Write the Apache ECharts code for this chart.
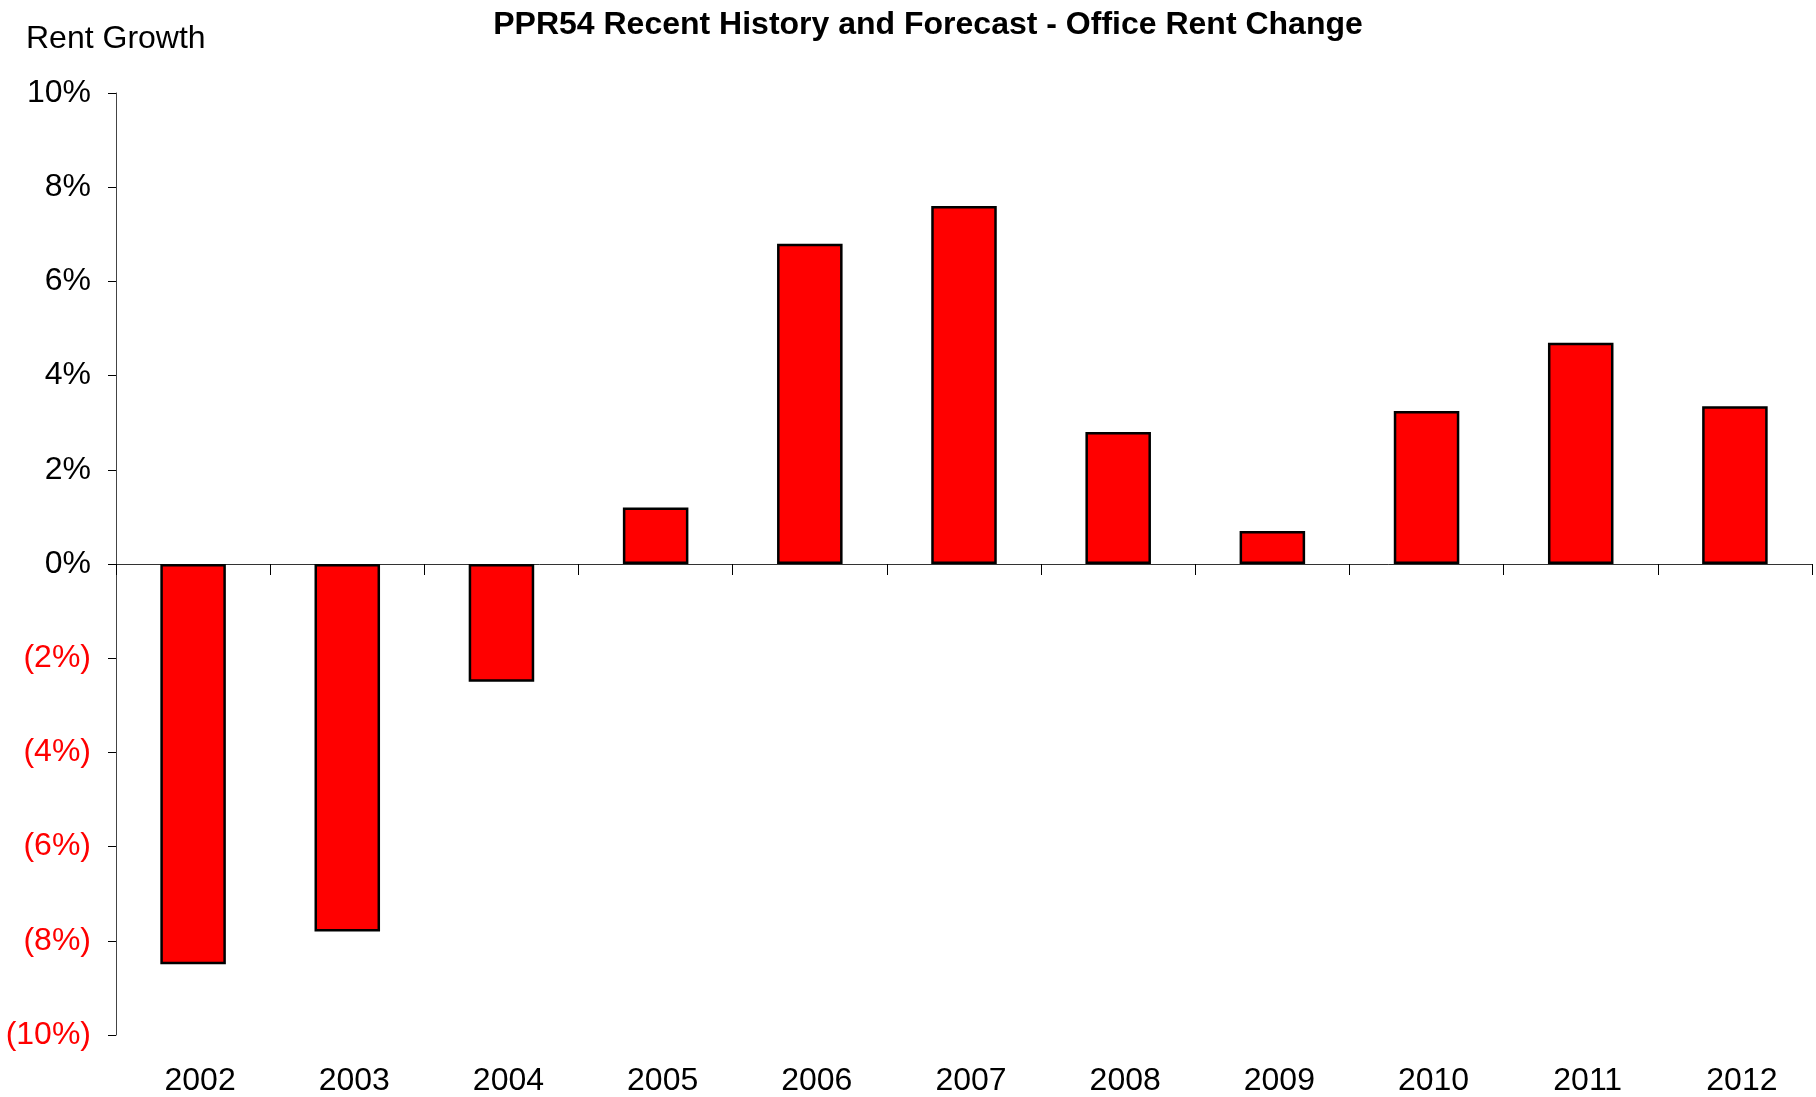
<!DOCTYPE html>
<html>
<head>
<meta charset="utf-8">
<script src="https://cdn.jsdelivr.net/npm/echarts@6/dist/echarts.min.js"></script>
<style>
  html, body { margin: 0; padding: 0; background: #fff; }
  #chart { width: 1816px; height: 1097px; }
</style>
</head>
<body>
<div id="chart"></div>
<script>
// years on the category axis
const years = ['2002', '2003', '2004', '2005', '2006', '2007', '2008', '2009', '2010', '2011', '2012'];
// office rent change, percent
const rentChange = [-8.5, -7.8, -2.5, 1.2, 6.8, 7.6, 2.8, 0.7, 3.25, 4.7, 3.35];
// y ticks
const yMin = -10, yMax = 10, yStep = 2;

const FONT = '"Liberation Sans", Arial, sans-serif';

function pctLabel(v) {
    if (v < 0) return '(' + (-v) + '%)';
    return v + '%';
}

function initChart() {
    let chart = echarts.init(document.getElementById('chart'));
    let option = {
        animation: false,
        title: [
            {
                text: 'PPR54 Recent History and Forecast - Office Rent Change',
                left: 923,
                textAlign: 'center',
                top: 4,
                textStyle: { fontFamily: FONT, fontSize: 32, fontWeight: 'bold', color: '#000' }
            },
            {
                text: 'Rent Growth',
                left: 21,
                top: 18,
                textStyle: { fontFamily: FONT, fontSize: 32, fontWeight: 'normal', color: '#000' }
            }
        ],
        grid: { left: 116, right: 4, top: 93, bottom: 62, containLabel: false },
        xAxis: [
            {
                // axis line through zero with ticks between the years
                type: 'category',
                data: years,
                position: 'bottom',
                axisLine: { onZero: true, lineStyle: { color: '#333', width: 1 } },
                axisTick: { show: true, alignWithLabel: false, length: 11, inside: false, lineStyle: { color: '#000', width: 1 } },
                axisLabel: { show: false }
            },
            {
                // year labels along the bottom edge (sit a little right of the bars)
                type: 'category',
                data: years,
                position: 'bottom',
                axisLine: { show: false, onZero: false },
                axisTick: { show: false },
                axisLabel: { margin: 30, padding: [0, 0, 0, 14], fontFamily: FONT, fontSize: 32, color: '#000' }
            }
        ],
        yAxis: {
            type: 'value',
            min: yMin,
            max: yMax,
            interval: yStep,
            axisLine: { show: true, lineStyle: { color: '#444', width: 1 } },
            axisTick: { show: true, length: 8, lineStyle: { color: '#000', width: 1 } },
            splitLine: { show: false },
            axisLabel: {
                margin: 25,
                padding: [5, 0, 0, 0],
                fontFamily: FONT,
                fontSize: 32,
                formatter: pctLabel,
                color: function (v) {
                    return Number(v) < 0 ? '#ff0000' : '#000';
                }
            }
        },
        series: [
            {
                type: 'bar',
                xAxisIndex: 0,
                data: rentChange,
                barWidth: '42.5%',
                itemStyle: { color: '#ff0000', borderColor: '#000', borderWidth: 2.5 }
            }
        ]
    };
    chart.setOption(option);
}

initChart();
</script>
</body>
</html>
